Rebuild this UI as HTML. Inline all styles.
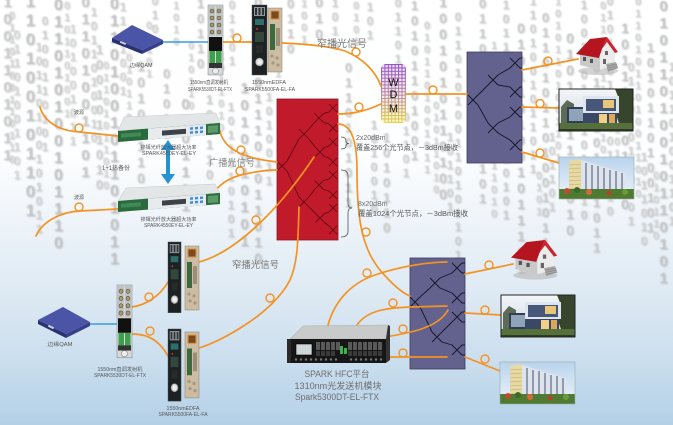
<!DOCTYPE html>
<html><head><meta charset="utf-8">
<style>
html,body{margin:0;padding:0;}
body{width:673px;height:425px;overflow:hidden;position:relative;background:linear-gradient(to bottom,#ffffff 0%,#fdfeff 36%,#eef4f9 52%,#dde9f3 70%,#cadeee 85%,#b4d0e7 100%);font-family:"Liberation Sans","Noto Sans CJK SC",sans-serif;}
.b{position:absolute;writing-mode:vertical-lr;text-orientation:upright;font-weight:bold;line-height:1;color:#cdcdcd;text-shadow:1px 1px 1px rgba(0,0,0,.16);filter:blur(.7px);font-family:"Liberation Sans",sans-serif;}
svg{position:absolute;left:0;top:0;}
</style></head><body>
<div class="b" style="left:0px;top:-6px;font-size:15px;color:#c8c8c8">1001101011</div>
<div class="b" style="left:6px;top:10px;font-size:11px;color:#d2d2d2">0110100110110</div>
<div class="b" style="left:11px;top:28px;font-size:12px;color:#d3d3d3">01101001101</div>
<div class="b" style="left:22px;top:-8px;font-size:17px;color:#c3c3c3">110100101101</div>
<div class="b" style="left:33px;top:40px;font-size:12px;color:#d0d0d0">10110100101011</div>
<div class="b" style="left:39px;top:14px;font-size:12px;color:#cfcfcf">0100110101</div>
<div class="b" style="left:50px;top:-3px;font-size:16px;color:#c0c0c0">011010100101110</div>
<div class="b" style="left:61px;top:0px;font-size:11px;color:#d4d4d4">0101101001</div>
<div class="b" style="left:67px;top:22px;font-size:12px;color:#d3d3d3">101001011</div>
<div class="b" style="left:78px;top:-6px;font-size:15px;color:#c6c6c6">01101001101</div>
<div class="b" style="left:88px;top:5px;font-size:12px;color:#d1d1d1">1011010010</div>
<div class="b" style="left:93px;top:42px;font-size:13px;color:#cdcdcd">1001011010</div>
<div class="b" style="left:100px;top:60px;font-size:11px;color:#d4d4d4">01101011010</div>
<div class="b" style="left:106px;top:-4px;font-size:16px;color:#c2c2c2">0110100101101011</div>
<div class="b" style="left:117px;top:0px;font-size:12px;color:#d2d2d2">1101001</div>
<div class="b" style="left:123px;top:52px;font-size:11px;color:#d3d3d3">0101101</div>
<div class="b" style="left:134px;top:58px;font-size:14px;color:#c9c9c9">10100110</div>
<div class="b" style="left:143px;top:20px;font-size:11px;color:#d4d4d4">01101</div>
<div class="b" style="left:149px;top:-6px;font-size:12px;color:#cfcfcf">0101</div>
<div class="b" style="left:160px;top:66px;font-size:13px;color:#cbcbcb">01011</div>
<div class="b" style="left:170px;top:0px;font-size:11px;color:#d4d4d4">1010</div>
<div class="b" style="left:178px;top:96px;font-size:15px;color:#c5c5c5">0101101</div>
<div class="b" style="left:185px;top:40px;font-size:11px;color:#d3d3d3">010110</div>
<div class="b" style="left:194px;top:-4px;font-size:13px;color:#cbcbcb">10110</div>
<div class="b" style="left:203px;top:92px;font-size:13px;color:#cccccc">1001101</div>
<div class="b" style="left:215px;top:50px;font-size:11px;color:#d3d3d3">1011010</div>
<div class="b" style="left:225px;top:100px;font-size:12px;color:#cfcfcf">1011010101</div>
<div class="b" style="left:226px;top:-2px;font-size:12px;color:#d1d1d1">01101</div>
<div class="b" style="left:237px;top:80px;font-size:15px;color:#c4c4c4">1010010101</div>
<div class="b" style="left:251px;top:-6px;font-size:14px;color:#c6c6c6">01101011101011010</div>
<div class="b" style="left:263px;top:90px;font-size:12px;color:#cfcfcf">1010011</div>
<div class="b" style="left:272px;top:20px;font-size:11px;color:#d3d3d3">01011</div>
<div class="b" style="left:284px;top:-4px;font-size:13px;color:#cccccc">0110</div>
<div class="b" style="left:298px;top:-2px;font-size:11px;color:#d3d3d3">1001</div>
<div class="b" style="left:312px;top:-6px;font-size:14px;color:#c8c8c8">010</div>
<div class="b" style="left:329px;top:-4px;font-size:12px;color:#cfcfcf">1010</div>
<div class="b" style="left:342px;top:60px;font-size:13px;color:#cacaca">0110101011</div>
<div class="b" style="left:350px;top:0px;font-size:11px;color:#d3d3d3">0101</div>
<div class="b" style="left:364px;top:0px;font-size:12px;color:#d0d0d0">101</div>
<div class="b" style="left:368px;top:118px;font-size:12px;color:#cdcdcd">1010010</div>
<div class="b" style="left:380px;top:130px;font-size:13px;color:#cbcbcb">1010110</div>
<div class="b" style="left:392px;top:-4px;font-size:12px;color:#cfcfcf">0110101</div>
<div class="b" style="left:400px;top:110px;font-size:12px;color:#d0d0d0">01101</div>
<div class="b" style="left:408px;top:-2px;font-size:13px;color:#c8c8c8">10101101001</div>
<div class="b" style="left:421px;top:20px;font-size:11px;color:#d1d1d1">0101101001011</div>
<div class="b" style="left:430px;top:100px;font-size:11px;color:#d3d3d3">01011010</div>
<div class="b" style="left:436px;top:-6px;font-size:14px;color:#c5c5c5">1001010110100</div>
<div class="b" style="left:444px;top:130px;font-size:12px;color:#cfcfcf">101101</div>
<div class="b" style="left:452px;top:10px;font-size:12px;color:#cdcdcd">0110101001101011010</div>
<div class="b" style="left:476px;top:-4px;font-size:13px;color:#c9c9c9">01101011001101</div>
<div class="b" style="left:488px;top:40px;font-size:11px;color:#d2d2d2">101001011011010</div>
<div class="b" style="left:500px;top:-2px;font-size:12px;color:#cbcbcb">1011010010110101</div>
<div class="b" style="left:514px;top:20px;font-size:14px;color:#c5c5c5">0101101001011101</div>
<div class="b" style="left:527px;top:-6px;font-size:12px;color:#cdcdcd">1101001011011</div>
<div class="b" style="left:533px;top:170px;font-size:11px;color:#d3d3d3">0101</div>
<div class="b" style="left:539px;top:10px;font-size:13px;color:#c7c7c7">0110101101001011</div>
<div class="b" style="left:546px;top:130px;font-size:12px;color:#cfcfcf">101101</div>
<div class="b" style="left:552px;top:-4px;font-size:11px;color:#d2d2d2">10101101001101</div>
<div class="b" style="left:563px;top:30px;font-size:14px;color:#c6c6c6">0101101101010</div>
<div class="b" style="left:578px;top:-2px;font-size:12px;color:#cccccc">1001101011010110</div>
<div class="b" style="left:590px;top:60px;font-size:13px;color:#c9c9c9">0110101101011</div>
<div class="b" style="left:597px;top:0px;font-size:11px;color:#d3d3d3">0110101101010</div>
<div class="b" style="left:604px;top:-6px;font-size:12px;color:#cecece">0101101001011010</div>
<div class="b" style="left:611px;top:100px;font-size:11px;color:#d2d2d2">10101101</div>
<div class="b" style="left:618px;top:20px;font-size:14px;color:#c4c4c4">101101001010</div>
<div class="b" style="left:625px;top:60px;font-size:12px;color:#d0d0d0">011010110101</div>
<div class="b" style="left:632px;top:-4px;font-size:11px;color:#d1d1d1">01101011010011010</div>
<div class="b" style="left:638px;top:150px;font-size:12px;color:#cfcfcf">1011010</div>
<div class="b" style="left:644px;top:40px;font-size:13px;color:#c8c8c8">1010110100101</div>
<div class="b" style="left:650px;top:170px;font-size:11px;color:#d3d3d3">010110</div>
<div class="b" style="left:656px;top:-2px;font-size:15px;color:#c2c2c2">01011010010110101</div>
<div class="b" style="left:666px;top:60px;font-size:12px;color:#cdcdcd">101101001101</div>

<svg width="673" height="425" viewBox="0 0 673 425" font-family="Liberation Sans, Noto Sans CJK SC, sans-serif">
<defs>
<linearGradient id="wdmg" x1="0" y1="0" x2="0" y2="1"><stop offset="0" stop-color="#9552c8"/><stop offset=".5" stop-color="#b98aa6"/><stop offset="1" stop-color="#e8d03a"/></linearGradient>
<pattern id="grid" width="3.4" height="3.4" patternUnits="userSpaceOnUse" x="381" y="64"><rect x="1.1" y="1.1" width="2.3" height="2.3" fill="#fff"/></pattern>
<linearGradient id="skyv" x1="0" y1="0" x2="0" y2="1"><stop offset="0" stop-color="#f4f6f8"/><stop offset="1" stop-color="#c9d5e2"/></linearGradient>
<linearGradient id="skya" x1="0" y1="0" x2="0" y2="1"><stop offset="0" stop-color="#b9d4ee"/><stop offset="1" stop-color="#eef4f8"/></linearGradient>
<g id="villa">
<rect width="74" height="42" fill="url(#skyv)"/>
<path d="M56 0 L74 0 L74 34 L60 34 Q54 20 60 10 Z" fill="#36452c"/>
<path d="M2 18 L8 11 L15 15 L15 34 L2 34Z" fill="#5d6a55"/>
<rect x="8" y="18" width="20" height="16" fill="#2f3d55"/>
<rect x="10" y="20" width="16" height="12" fill="#8fa4b9"/>
<rect x="24" y="7" width="36" height="17" fill="#dfe5ee"/>
<rect x="27" y="10" width="30" height="12" fill="#46577a"/>
<rect x="44" y="11" width="11" height="8" fill="#e9c77a"/>
<rect x="24" y="24" width="34" height="12" fill="#3a4866"/>
<rect x="40" y="25" width="8" height="10" fill="#f1d08a"/>
<rect x="50" y="25" width="6" height="10" fill="#dca85a"/>
<rect x="0" y="34" width="74" height="8" fill="#55703a"/>
<rect x="0" y="40" width="74" height="2" fill="#2e3d22"/>
<rect width="74" height="42" fill="none" stroke="#222" stroke-width="1"/>
</g>
<g id="apt">
<rect width="75" height="42" fill="url(#skya)"/>
<polygon points="10,4 22,2 22,38 10,38" fill="#e8d8a2"/>
<g stroke="#b8a878" stroke-width=".6"><line x1="10" y1="8" x2="22" y2="7"/><line x1="10" y1="12" x2="22" y2="11"/><line x1="10" y1="16" x2="22" y2="15"/><line x1="10" y1="20" x2="22" y2="19"/><line x1="10" y1="24" x2="22" y2="23"/><line x1="10" y1="28" x2="22" y2="27"/><line x1="10" y1="32" x2="22" y2="31"/></g>
<polygon points="22,3 66,16 66,38 22,38" fill="#dfe4ec"/>
<g fill="#8e9bb0"><rect x="26" y="6" width="2" height="30"/><rect x="32" y="8" width="2" height="28"/><rect x="38" y="9" width="2" height="27"/><rect x="44" y="11" width="2" height="25"/><rect x="50" y="13" width="2" height="23"/><rect x="56" y="14" width="2" height="22"/><rect x="62" y="16" width="2" height="20"/></g>
<rect y="32" width="75" height="10" fill="#4f7a32"/>
<circle cx="8" cy="34" r="3" fill="#c24a30"/><circle cx="30" cy="35" r="3" fill="#d8683a"/><circle cx="50" cy="36" r="2.5" fill="#b8402a"/><circle cx="66" cy="35" r="3" fill="#6a9a3a"/><circle cx="18" cy="33" r="3" fill="#3a6a28"/>
<rect width="75" height="42" fill="none" stroke="#9aa" stroke-width=".6"/>
</g>
<g id="house">
<ellipse cx="22" cy="34" rx="20" ry="4" fill="#b5b5b5" opacity=".6"/>
<polygon points="4,16 24,20 24,33 4,28" fill="#c9c9c9"/>
<polygon points="24,20 31,5 39,14 39,28 24,33" fill="#ececec"/>
<rect x="7" y="20" width="3" height="4" fill="#555"/><rect x="14" y="22" width="3" height="4" fill="#555"/>
<rect x="29" y="14" width="3" height="4" fill="#666"/><rect x="27" y="22" width="3" height="5" fill="#666"/>
<polygon points="30,27 40,25 42,31 32,35" fill="#a8a8a8"/>
<g stroke="#777" stroke-width=".5"><line x1="31" y1="29" x2="41" y2="27"/><line x1="31.5" y1="31" x2="41.5" y2="29"/><line x1="32" y1="33" x2="42" y2="31"/></g>
<polygon points="0,17 14,2 31,0 26,12 23,21" fill="#b4151f"/>
<polygon points="31,0 42,15 39,16 31,5 26,12" fill="#cc2530"/>
</g>
<g id="tx">
<rect width="15" height="70" fill="#d5d9d9" stroke="#7a7f80" stroke-width=".5"/>
<rect x="1" y="1" width="6" height="30" fill="#c0c4c4"/><rect x="8" y="1" width="6" height="30" fill="#c0c4c4"/>
<g fill="#b09a6a" stroke="#3a3a3a" stroke-width=".5"><circle cx="4" cy="6" r="2"/><circle cx="11" cy="6" r="2"/><circle cx="4" cy="13" r="2"/><circle cx="11" cy="13" r="2"/><circle cx="4" cy="20" r="2"/><circle cx="11" cy="20" r="2"/><circle cx="4" cy="27" r="2"/><circle cx="11" cy="27" r="2"/></g>
<rect x="1" y="32" width="13" height="14" fill="#111"/>
<rect x="1.5" y="46" width="5.5" height="12" fill="#3fa04c"/><rect x="8" y="46" width="5.5" height="12" fill="#3fa04c"/>
<rect x="1" y="58" width="13" height="5" fill="#333"/>
<circle cx="7.5" cy="66" r="3" fill="#eee" stroke="#777" stroke-width=".5"/>
</g>
<g id="dk">
<rect width="15" height="70" fill="#1c2124" stroke="#555" stroke-width=".5"/>
<rect x="2" y="2" width="11" height="9" fill="#8d9aa0"/>
<rect x="3" y="3" width="2" height="7" fill="#333"/><rect x="6.5" y="3" width="2" height="7" fill="#333"/><rect x="10" y="3" width="2" height="7" fill="#333"/>
<rect x="3" y="14" width="9" height="6" fill="#2d6e6b"/>
<circle cx="5" cy="24" r="1" fill="#c33"/>
<rect x="3" y="27" width="9" height="10" fill="#33483a"/>
<rect x="4" y="40" width="7" height="8" fill="#2a2a2a"/>
<circle cx="7.5" cy="57" r="4" fill="#cfcfcf" stroke="#888" stroke-width=".5"/><circle cx="7.5" cy="57" r="2.5" fill="#eee"/>
</g>
<g id="bg">
<rect width="14" height="64" fill="#cbbca3" stroke="#8d7f68" stroke-width=".5"/>
<rect x="3" y="3" width="8" height="8" fill="#7a4b23" stroke="#d9913a" stroke-width="1"/>
<rect x="2" y="16" width="5" height="26" fill="#3c6a3f"/>
<rect x="8" y="20" width="4" height="18" fill="#9a8e78"/>
<g fill="#a69880"><circle cx="4" cy="48" r="1.6"/><circle cx="9" cy="50" r="1.6"/><circle cx="5" cy="55" r="1.6"/><circle cx="10" cy="57" r="1.6"/></g>
</g>
<g id="rackfront">
<rect width="102" height="11" fill="#2b6a3d"/>
<rect x="3" y="3" width="20" height="4" fill="#3f8a55"/>
<rect x="30" y="0" width="58" height="11" fill="#e7ebed"/>
<rect x="44" y="3" width="24" height="5" fill="#3c4348"/>
<g fill="#3f8fd8"><rect x="72" y="2" width="3" height="2.5"/><rect x="77" y="2" width="3" height="2.5"/><rect x="82" y="2" width="3" height="2.5"/><rect x="72" y="6" width="3" height="2.5"/><rect x="77" y="6" width="3" height="2.5"/><rect x="82" y="6" width="3" height="2.5"/></g>
<rect x="88" y="0" width="14" height="11" fill="#2f6f42"/>
<rect x="90" y="2" width="10" height="7" fill="#5d9a6a"/>
</g>
</defs>

<!-- boxes -->
<rect x="277" y="99" width="61" height="141" fill="#c01a2b" stroke="#8e1420" stroke-width=".8"/>
<rect x="467" y="52" width="55" height="111" fill="#63628e" stroke="#3d3c60" stroke-width=".8"/>
<rect x="410" y="258" width="55" height="111" fill="#63628e" stroke="#3d3c60" stroke-width=".8"/>

<!-- red tree -->
<g stroke="#5c0810" stroke-width=".8" fill="none">
<path d="M277,161 L287,171 M277,171 L287,161"/>
<path d="M299,129 L309,139 M299,139 L309,129"/>
<path d="M299,197 L309,207 M299,207 L309,197"/>
<path d="M314.5,113.5 L323.5,122.5 M314.5,122.5 L323.5,113.5"/>
<path d="M315.5,147.5 L324.5,156.5 M315.5,156.5 L324.5,147.5"/>
<path d="M314.5,180.5 L323.5,189.5 M314.5,189.5 L323.5,180.5"/>
<path d="M315.5,213.5 L324.5,222.5 M315.5,222.5 L324.5,213.5"/>
<path d="M329,104 L337,112 M329,112 L337,104"/>
<path d="M329,124 L337,132 M329,132 L337,124"/>
<path d="M329,138 L337,146 M329,146 L337,138"/>
<path d="M329,158 L337,166 M329,166 L337,158"/>
<path d="M329,171 L337,179 M329,179 L337,171"/>
<path d="M329,191 L337,199 M329,199 L337,191"/>
<path d="M329,204 L337,212 M329,212 L337,204"/>
<path d="M329,226 L337,234 M329,234 L337,226"/>
<path d="M287,161 L299,139 M287,171 L299,197"/>
<path d="M309,129 L314.5,122.5 M309,139 L315.5,147.5 M309,197 L314.5,189.5 M309,207 L315.5,213.5"/>
<path d="M323.5,113.5 L329,112 M323.5,122.5 L329,124 M324.5,147.5 L329,146 M324.5,156.5 L329,158 M323.5,180.5 L329,179 M323.5,189.5 L329,191 M324.5,213.5 L329,212 M324.5,222.5 L329,226"/>
</g>
<!-- purple trees -->
<g stroke="#16162a" stroke-width=".9" fill="none">
<path d="M468,95 L478,105 M468,105 L478,95"/>
<path d="M488,75 L498,85 M488,85 L498,75"/>
<path d="M488,123 L498,133 M488,133 L498,123"/>
<path d="M510,58 L520,68 M510,68 L520,58"/>
<path d="M510,87 L520,97 M510,97 L520,87"/>
<path d="M510,107 L520,117 M510,117 L520,107"/>
<path d="M510,140 L520,150 M510,150 L520,140"/>
<path d="M478,95 L488,85 M478,105 L488,123 M498,75 L510,68 M498,85 L510,87 M498,123 L510,117 M498,133 L510,140"/>
<path d="M520,58 L522,58 M520,68 L522,68 M520,87 L522,87 M520,97 L522,97 M520,107 L522,107 M520,117 L522,117 M520,140 L522,140 M520,150 L522,150"/>
<path d="M410,297 L420,307 M410,307 L420,297"/>
<path d="M430,278 L440,288 M430,288 L440,278"/>
<path d="M432,332 L442,342 M432,342 L442,332"/>
<path d="M452,263 L462,273 M452,273 L462,263"/>
<path d="M452,293 L462,303 M452,303 L462,293"/>
<path d="M452,312 L462,322 M452,322 L462,312"/>
<path d="M452,345 L462,355 M452,355 L462,345"/>
<path d="M420,297 L430,288 M420,307 L432,332 M440,278 L452,273 M440,288 L452,293 M442,332 L452,322 M442,342 L452,345"/>
<path d="M462,263 L465,263 M462,273 L465,273 M462,293 L465,293 M462,303 L465,303 M462,312 L465,312 M462,322 L465,322 M462,345 L465,345 M462,355 L465,355"/>
</g>

<!-- WDM -->
<rect x="381" y="64" width="25" height="59" rx="5" fill="url(#wdmg)"/>
<rect x="381" y="64" width="25" height="59" rx="5" fill="url(#grid)" opacity=".85"/>
<g font-size="11" fill="#111" text-anchor="middle"><text x="393.5" y="86">W</text><text x="393.5" y="98">D</text><text x="393.5" y="112">M</text></g>

<!-- blue lines -->
<g stroke="#3b9be0" stroke-width="1.5"><line x1="163" y1="42" x2="208" y2="42"/><line x1="90" y1="324" x2="118" y2="324"/></g>

<!-- orange fibers -->
<g stroke="#f39323" stroke-width="1.7" fill="none" stroke-linecap="round">
<path d="M223,42 L252,42"/>
<path d="M282,43 C305,44 330,46 345,51 C362,58 375,70 381,86"/>
<path d="M338,114 C355,114 368,110 381,104"/>
<path d="M406,94 L467,94"/>
<path d="M522,70 L578,59"/>
<path d="M522,107 L559,108"/>
<path d="M522,152 L559,163"/>
<path d="M338,124 C351,124 357,140 357,170 C357,212 360,246 380,270 C392,284 402,293 410,296"/>
<path d="M220,131 C222,142 232,152 250,157 C260,160 270,161 277,162"/>
<path d="M213,193 C222,182 232,176 250,173 C260,171 270,170 277,170"/>
<path d="M40,107 C44,121 58,131 80,132 L118,136"/>
<path d="M36,236 C42,222 60,212 80,211 L118,209"/>
<path d="M314,157 C300,178 285,198 265,218 C245,238 222,256 199,262"/>
<path d="M299,207 C298,240 298,262 290,280 C282,296 265,312 245,325 C228,336 212,344 199,348"/>
<path d="M132,307 C146,305 160,296 168,282"/>
<path d="M132,334 C150,334 160,342 168,356"/>
<path d="M328,325 C335,300 352,282 378,274 C402,266 430,262 447,262"/>
<path d="M357,325 C366,312 382,308 410,307 L447,306"/>
<path d="M385,337 C410,333 438,328 448,310"/>
<path d="M383,357 C405,357 425,357 447,357"/>
<path d="M465,274 L513,264"/>
<path d="M465,313 L501,315"/>
<path d="M465,357 L500,371"/>
</g>
<g stroke="#f39323" stroke-width="1.4" fill="none">
<circle cx="237" cy="38" r="4"/><circle cx="356" cy="52" r="4"/><circle cx="359" cy="107" r="4"/><circle cx="433" cy="90" r="4"/>
<circle cx="548" cy="61" r="4"/><circle cx="540" cy="103.5" r="4"/><circle cx="540" cy="153" r="4"/>
<circle cx="366" cy="232" r="4"/><circle cx="241" cy="150" r="4"/><circle cx="240" cy="171" r="4"/>
<circle cx="79" cy="128" r="4"/><circle cx="79" cy="207" r="4"/><circle cx="256" cy="220" r="4"/><circle cx="270" cy="298" r="4"/>
<circle cx="149" cy="297" r="4"/><circle cx="150" cy="331" r="4"/>
<circle cx="367" cy="273" r="4"/><circle cx="393" cy="303" r="4"/><circle cx="403" cy="329" r="4"/><circle cx="403" cy="353" r="4"/>
<circle cx="489" cy="265" r="4"/><circle cx="485" cy="310" r="4"/><circle cx="485" cy="359" r="4"/>
</g>

<!-- brackets -->
<g stroke="#555" stroke-width=".8" fill="none">
<path d="M341,137 Q346,137 346,141 Q346,143.5 349,143.5 Q346,143.5 346,146 Q346,149 341,149"/>
<path d="M341,170 Q348,170 348,176 L348,203 Q348,208 352,208 Q348,208 348,213 L348,231 Q348,237 341,237"/>
</g>
<g fill="#555">
<text x="356" y="140" font-size="7" fill="#6a6a6a">2x20dBm</text>
<text x="356" y="150" font-size="7.5" textLength="102" lengthAdjust="spacingAndGlyphs">覆盖256个光节点，－3dBm接收</text>
<text x="358" y="206" font-size="7" fill="#6a6a6a">8x20dBm</text>
<text x="358" y="216" font-size="7.5" textLength="110" lengthAdjust="spacingAndGlyphs">覆盖1024个光节点，－3dBm接收</text>
</g>

<!-- signal labels -->
<text x="317" y="47" font-size="10" fill="#777" textLength="50" lengthAdjust="spacingAndGlyphs">窄播光信号</text>
<text x="209" y="166" font-size="9.5" fill="#858585" textLength="46" lengthAdjust="spacingAndGlyphs">广播光信号</text>
<text x="232" y="268" font-size="9.5" fill="#777" textLength="47" lengthAdjust="spacingAndGlyphs">窄播光信号</text>

<!-- photos -->
<use href="#house" transform="translate(576,37)"/>
<use href="#villa" transform="translate(559,89)"/>
<use href="#apt" transform="translate(559,157)"/>
<use href="#house" transform="translate(511,240) scale(1.1,1.04)"/>
<use href="#villa" transform="translate(501,295)"/>
<use href="#apt" transform="translate(500,362)"/>

<!-- QAMs -->
<polygon points="112,38 132,25 163,40 142,50" fill="#4a55a8"/>
<polygon points="112,38 142,50 142,54 112,42" fill="#29316f"/>
<polygon points="142,50 163,40 163,44 142,54" fill="#363f88"/>
<rect x="120" y="42" width="6" height="2" fill="#ccd" transform="rotate(22 123 43)"/>
<polygon points="38,320 63,307 90,322 66,334" fill="#4a55a8"/>
<polygon points="38,320 66,334 66,338 38,324" fill="#29316f"/>
<polygon points="66,334 90,322 90,326 66,338" fill="#363f88"/>
<rect x="48" y="326" width="6" height="2" fill="#ccd" transform="rotate(26 51 327)"/>

<!-- modules -->
<use href="#tx" transform="translate(208,5)"/>
<use href="#dk" transform="translate(252,5)"/>
<use href="#bg" transform="translate(268,8)"/>
<use href="#tx" transform="translate(117,285) scale(1,1.04)"/>
<use href="#dk" transform="translate(168,242) scale(.87,1.01)"/>
<use href="#bg" transform="translate(185,246)"/>
<use href="#dk" transform="translate(168,329) scale(.87,1.03)"/>
<use href="#bg" transform="translate(185,332) scale(1,1.03)"/>

<!-- racks -->
<polygon points="118,131 220,123 216,113 124,117" fill="#e3e6e6" stroke="#c4c8c8" stroke-width=".5"/>
<use href="#rackfront" transform="matrix(1,-0.078,0,1,118,131)"/>
<polygon points="118,201 220,193 215,184 126,188" fill="#e3e6e6" stroke="#c4c8c8" stroke-width=".5"/>
<use href="#rackfront" transform="matrix(1,-0.078,0,1,118,201)"/>

<!-- blue arrow -->
<g fill="#2592d3"><rect x="166" y="148" width="4" height="28"/><polygon points="161,150 168,140 175,150"/><polygon points="161,174 168,184 175,174"/></g>

<!-- chassis -->
<polygon points="290,339 303,326 388,325 386,339" fill="#c9cbcb" stroke="#aaa" stroke-width=".5"/>
<rect x="288" y="339" width="98" height="24" fill="#161616"/>
<polygon points="386,339 388,325 390,326 390,360 386,363" fill="#333"/>
<rect x="287" y="339" width="4" height="24" fill="#2a2a2a"/>
<rect x="296" y="344" width="16" height="11" fill="#cfd6d8" stroke="#000" stroke-width=".6"/>
<g fill="#5a5a5a"><rect x="316" y="342" width="4" height="8"/><rect x="321" y="342" width="4" height="8"/><rect x="326" y="342" width="4" height="8"/><rect x="331" y="342" width="4" height="8"/><rect x="336" y="342" width="4" height="8"/><rect x="348" y="342" width="4" height="8"/><rect x="353" y="342" width="4" height="8"/><rect x="358" y="342" width="4" height="8"/><rect x="363" y="342" width="4" height="8"/><rect x="368" y="342" width="4" height="8"/><rect x="373" y="342" width="4" height="8"/><rect x="378" y="342" width="4" height="8"/></g>
<g fill="#3a3a3a"><rect x="316" y="351" width="4" height="5"/><rect x="321" y="351" width="4" height="5"/><rect x="326" y="351" width="4" height="5"/><rect x="331" y="351" width="4" height="5"/><rect x="348" y="351" width="4" height="5"/><rect x="353" y="351" width="4" height="5"/><rect x="358" y="351" width="4" height="5"/><rect x="363" y="351" width="4" height="5"/><rect x="368" y="351" width="4" height="5"/><rect x="373" y="351" width="4" height="5"/><rect x="378" y="351" width="4" height="5"/></g>
<rect x="340" y="346" width="3" height="8" fill="#3fb24a"/><rect x="344" y="348" width="3" height="6" fill="#3fb24a"/>
<g fill="#777"><circle cx="296" cy="359.5" r="1.2"/><circle cx="301" cy="359.5" r="1.2"/><circle cx="306" cy="359.5" r="1.2"/><circle cx="311" cy="359.5" r="1.2"/><circle cx="316" cy="359.5" r="1.2"/><circle cx="321" cy="359.5" r="1.2"/><circle cx="326" cy="359.5" r="1.2"/><circle cx="331" cy="359.5" r="1.2"/><circle cx="336" cy="359.5" r="1.2"/><circle cx="351" cy="359.5" r="1.2"/><circle cx="356" cy="359.5" r="1.2"/><circle cx="361" cy="359.5" r="1.2"/><circle cx="366" cy="359.5" r="1.2"/><circle cx="371" cy="359.5" r="1.2"/><circle cx="376" cy="359.5" r="1.2"/><circle cx="381" cy="359.5" r="1.2"/></g>

<!-- small labels -->
<g font-size="5" fill="#555" text-anchor="middle">
<text x="141" y="67" textLength="23" lengthAdjust="spacingAndGlyphs">边缘QAM</text>
<text x="209" y="84" textLength="38" lengthAdjust="spacingAndGlyphs">1550nm直调发射机</text>
<text x="210" y="91" textLength="44" lengthAdjust="spacingAndGlyphs">SPARK5530DT-EL-FTX</text>
<text x="269" y="84" textLength="34" lengthAdjust="spacingAndGlyphs">1550nmEDFA</text>
<text x="270" y="91" textLength="50" lengthAdjust="spacingAndGlyphs">SPARK5500FA-EL-FA</text>
<text x="168.5" y="149" textLength="56" lengthAdjust="spacingAndGlyphs">掺铒光纤放大器超大功率</text>
<text x="169" y="155" textLength="54" lengthAdjust="spacingAndGlyphs">SPARK4550EY-EL-EY</text>
<text x="168.5" y="221" textLength="56" lengthAdjust="spacingAndGlyphs">掺铒光纤放大器超大功率</text>
<text x="168.5" y="227" textLength="49" lengthAdjust="spacingAndGlyphs">SPARK4550EY-EL-EY</text>
<text x="60" y="346" textLength="25" lengthAdjust="spacingAndGlyphs">边缘QAM</text>
<text x="120" y="371" textLength="45" lengthAdjust="spacingAndGlyphs">1550nm直调发射机</text>
<text x="120" y="377" textLength="52" lengthAdjust="spacingAndGlyphs">SPARK5530DT-EL-FTX</text>
<text x="183" y="410" textLength="33" lengthAdjust="spacingAndGlyphs">1550nmEDFA</text>
<text x="183" y="416" textLength="49" lengthAdjust="spacingAndGlyphs">SPARK5500FA-EL-FA</text>
<text x="79" y="114">波源</text>
<text x="79" y="199">波源</text>
</g>
<text x="102" y="170" font-size="6" fill="#555" textLength="28" lengthAdjust="spacingAndGlyphs">1+1热备份</text>

<!-- chassis labels -->
<g font-size="9" fill="#6e6e6e" text-anchor="middle">
<text x="337" y="377" textLength="65" lengthAdjust="spacingAndGlyphs">SPARK HFC平台</text>
<text x="338" y="389" textLength="87" lengthAdjust="spacingAndGlyphs">1310nm光发送机模块</text>
<text x="337" y="400" textLength="84" lengthAdjust="spacingAndGlyphs">Spark5300DT-EL-FTX</text>
</g>
</svg>
</body></html>
